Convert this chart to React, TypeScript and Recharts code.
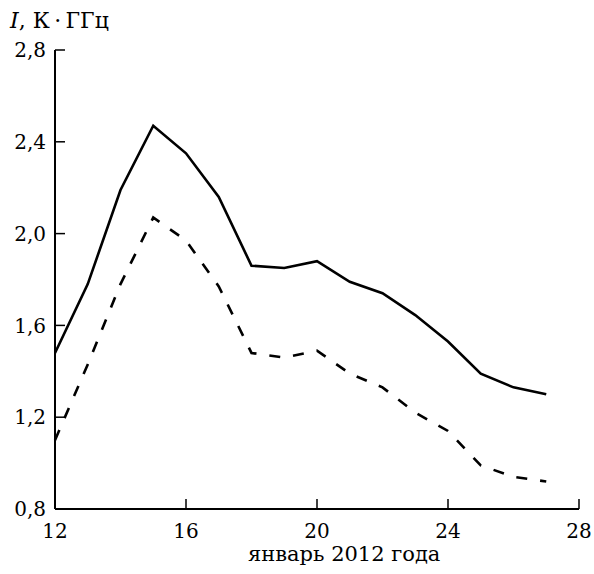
import React from "react";
import { LineChart, Line, XAxis, YAxis } from "recharts";

const days = [12, 13, 14, 15, 16, 17, 18, 19, 20, 21, 22, 23, 24, 25, 26, 27];
const solidValues = [1.48, 1.78, 2.19, 2.47, 2.35, 2.16, 1.86, 1.85, 1.88, 1.79, 1.74, 1.645, 1.53, 1.39, 1.33, 1.3];
const dashedValues = [1.1, 1.43, 1.78, 2.07, 1.97, 1.77, 1.48, 1.46, 1.49, 1.39, 1.33, 1.22, 1.14, 0.99, 0.94, 0.92];
const xTicks = [12, 16, 20, 24, 28];
const yTicks = [0.8, 1.2, 1.6, 2.0, 2.4, 2.8];

const data = days.map((d, i) => ({ day: d, solid: solidValues[i], dashed: dashedValues[i] }));

const FONT = "'DejaVu Serif', serif";
const fmt = (v: number) => v.toFixed(1).replace(".", ",");

export default function App() {
  return (
    <div style={{ position: "absolute", left: 0, top: 0, width: 594, height: 574, background: "#fff" }}>
      <LineChart width={594} height={574} data={data} margin={{ top: 50, right: 15, bottom: 35, left: 0 }}>
        <XAxis
          dataKey="day"
          type="number"
          domain={[12, 28]}
          ticks={xTicks}
          height={30}
          tickSize={-10}
          tickMargin={25}
          axisLine={{ stroke: "#000", strokeWidth: 2 }}
          tickLine={{ stroke: "#000", strokeWidth: 1.5 }}
          tick={{ fill: "#000", fontSize: 20, fontFamily: FONT }}
        />
        <YAxis
          type="number"
          domain={[0.8, 2.8]}
          ticks={yTicks}
          width={55}
          tickSize={-10}
          tickMargin={19}
          tickFormatter={fmt}
          axisLine={{ stroke: "#000", strokeWidth: 2 }}
          tickLine={{ stroke: "#000", strokeWidth: 1.5 }}
          tick={{ fill: "#000", fontSize: 20, fontFamily: FONT }}
        />
        <Line dataKey="solid" stroke="#000" strokeWidth={2.6} dot={false} isAnimationActive={false} />
        <Line dataKey="dashed" stroke="#000" strokeWidth={2.6} strokeDasharray="11 13" dot={false} isAnimationActive={false} />
      </LineChart>
      <div style={{ position: "absolute", left: 10, top: 8, fontFamily: FONT, fontSize: 22, color: "#000", whiteSpace: "nowrap" }}>
        <i>I</i>, К{"\u2009"}·{"\u2009"}ГГц
      </div>
      <div style={{ position: "absolute", left: 248, top: 542, fontFamily: FONT, fontSize: 21, color: "#000", whiteSpace: "nowrap" }}>
        январь 2012 года
      </div>
    </div>
  );
}
